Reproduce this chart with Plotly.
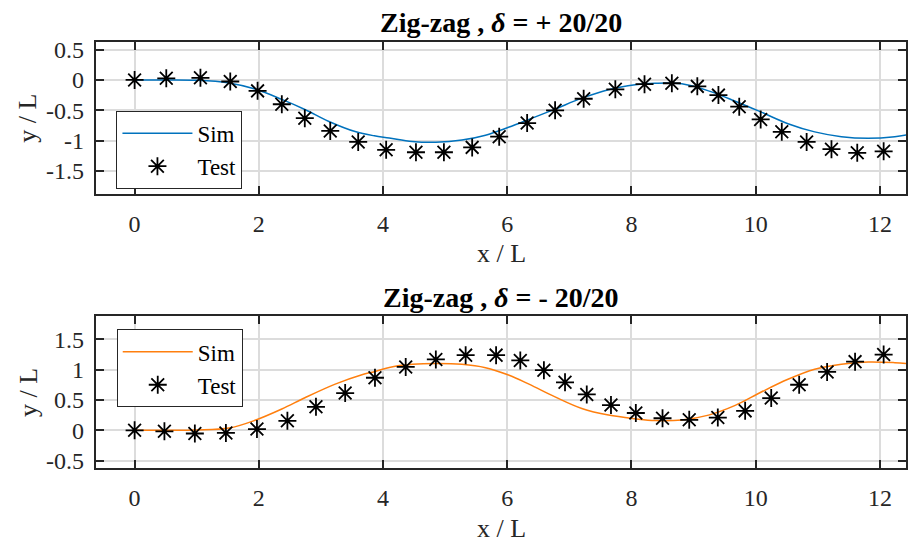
import plotly.graph_objects as go

# ---- data: delta = +20/20 ----
sim_pos_x = [0, 0.5, 1.0, 1.5, 1.94, 2.37, 2.75, 3.12, 3.55, 3.86, 4.10, 4.47, 4.85, 5.27,
             5.65, 6.02, 6.35, 6.77, 7.20, 7.63, 8.06, 8.38, 8.81, 9.24, 9.67, 10.09,
             10.52, 10.95, 11.38, 11.81, 12.24, 12.45]
sim_pos_y = [0, 0, -0.005, -0.045, -0.15, -0.32, -0.49, -0.68, -0.85, -0.92, -0.955, -1.012,
             -1.025, -0.99, -0.91, -0.78, -0.65, -0.48, -0.30, -0.16, -0.08, -0.055, -0.064,
             -0.18, -0.35, -0.53, -0.72, -0.855, -0.934, -0.96, -0.934, -0.9]
test_pos_x = [0, 0.51, 1.06, 1.54, 1.98, 2.37, 2.74, 3.15, 3.60, 4.05, 4.53, 4.98, 5.435,
              5.87, 6.32, 6.77, 7.23, 7.74, 8.21, 8.65, 9.06, 9.40, 9.735, 10.08, 10.42,
              10.82, 11.22, 11.635, 12.06]
test_pos_y = [0, 0.027, 0.035, -0.026, -0.18, -0.40, -0.63, -0.84, -1.02, -1.15, -1.19,
              -1.19, -1.11, -0.934, -0.71, -0.50, -0.31, -0.155, -0.07, -0.055, -0.106,
              -0.25, -0.44, -0.65, -0.854, -1.02, -1.14, -1.20, -1.175]

# ---- data: delta = -20/20 ----
sim_neg_x = [0, 0.5, 1.0, 1.52, 1.94, 2.37, 2.75, 3.23, 3.66, 3.86, 4.10, 4.47, 4.85, 5.27,
             5.65, 6.02, 6.35, 6.77, 7.20, 7.63, 8.06, 8.38, 8.81, 9.24, 9.67, 10.09,
             10.52, 10.95, 11.38, 11.81, 12.24, 12.45]
sim_neg_y = [0, 0, 0.005, 0.037, 0.165, 0.35, 0.54, 0.76, 0.915, 0.965, 1.035, 1.085, 1.10,
             1.086, 1.03, 0.91, 0.76, 0.55, 0.36, 0.25, 0.19, 0.16, 0.17, 0.25, 0.41, 0.63,
             0.84, 1.005, 1.086, 1.124, 1.113, 1.097]
test_neg_x = [0, 0.48, 0.97, 1.47, 1.97, 2.46, 2.92, 3.39, 3.87, 4.365, 4.85, 5.33, 5.82,
              6.21, 6.59, 6.93, 7.28, 7.67, 8.07, 8.50, 8.93, 9.39, 9.83, 10.25, 10.70,
              11.15, 11.60, 12.06]
test_neg_y = [0, -0.016, -0.053, -0.043, 0.02, 0.156, 0.387, 0.613, 0.865, 1.043, 1.166,
              1.237, 1.237, 1.15, 0.99, 0.79, 0.59, 0.415, 0.285, 0.198, 0.172, 0.21, 0.32,
              0.53, 0.75, 0.96, 1.13, 1.247]

x_ticks = [0, 2, 4, 6, 8, 10, 12]
x_ticklabels = ["0", "2", "4", "6", "8", "10", "12"]
y_ticks_pos = [-1.5, -1, -0.5, 0, 0.5]
y_ticklabels_pos = ["-1.5", "-1", "-0.5", "0", "0.5"]
y_ticks_neg = [-0.5, 0, 0.5, 1, 1.5]
y_ticklabels_neg = ["-0.5", "0", "0.5", "1", "1.5"]

FONT = "Liberation Serif, Times New Roman, serif"
W, H = 908, 552
AX_COLOR = "#262626"
GRID = "#dcdcdc"

# pixel layout of the two panels
left_px, right_px = 96, 908
top1, bot1 = 37.7, 192.7
top2, bot2 = 317.7, 472.7


def ydom(top, bot):
    return [(H - bot) / H, (H - top) / H]


fig = go.Figure()

fig.add_trace(go.Scatter(x=sim_pos_x, y=sim_pos_y, mode="lines", name="Sim",
                         line=dict(color="#0072BD", width=1.5, shape="spline", smoothing=1.0),
                         xaxis="x", yaxis="y", legend="legend"))
fig.add_trace(go.Scatter(x=test_pos_x, y=test_pos_y, mode="markers", name="Test",
                         marker=dict(symbol="asterisk-open", size=15, color="black",
                                     line=dict(color="black", width=1.8)),
                         xaxis="x", yaxis="y", legend="legend"))
fig.add_trace(go.Scatter(x=sim_neg_x, y=sim_neg_y, mode="lines", name="Sim",
                         line=dict(color="#FF7F0E", width=1.5, shape="spline", smoothing=1.0),
                         xaxis="x2", yaxis="y2", legend="legend2"))
fig.add_trace(go.Scatter(x=test_neg_x, y=test_neg_y, mode="markers", name="Test",
                         marker=dict(symbol="asterisk-open", size=15, color="black",
                                     line=dict(color="black", width=1.8)),
                         xaxis="x2", yaxis="y2", legend="legend2"))

xdom = [left_px / W, right_px / W]
common_x = dict(range=[-0.625, 12.42], tickvals=x_ticks, ticktext=x_ticklabels,
                showgrid=True, gridcolor=GRID, gridwidth=1.5, zeroline=False,
                showline=True, linecolor=AX_COLOR, linewidth=2, mirror="ticks",
                ticks="inside", ticklen=8, tickwidth=2, tickcolor=AX_COLOR,
                ticklabelstandoff=7,
                tickfont=dict(family=FONT, size=24, color=AX_COLOR), domain=xdom)
common_y = dict(showgrid=True, gridcolor=GRID, gridwidth=1.5, zeroline=False,
                showline=True, linecolor=AX_COLOR, linewidth=2, mirror="ticks",
                ticks="inside", ticklen=8, tickwidth=2, tickcolor=AX_COLOR,
                ticklabelstandoff=5,
                tickfont=dict(family=FONT, size=24, color=AX_COLOR))

legend_common = dict(xanchor="left", yanchor="top", bgcolor="white",
                     bordercolor=AX_COLOR, borderwidth=1,
                     font=dict(family=FONT, size=23, color="black"),
                     itemwidth=70, tracegroupgap=0)

fig.update_layout(
    width=W, height=H,
    margin=dict(l=0, r=0, t=0, b=0),
    paper_bgcolor="white", plot_bgcolor="white",
    font=dict(family=FONT),
    xaxis=dict(common_x, anchor="y"),
    yaxis=dict(common_y, range=[-1.875, 0.625], tickvals=y_ticks_pos,
               ticktext=y_ticklabels_pos, domain=ydom(top1, bot1), anchor="x"),
    xaxis2=dict(common_x, anchor="y2"),
    yaxis2=dict(common_y, range=[-0.625, 1.875], tickvals=y_ticks_neg,
                ticktext=y_ticklabels_neg, domain=ydom(top2, bot2), anchor="x2"),
    legend=dict(legend_common, x=116.7 / W, y=(H - 108) / H),
    legend2=dict(legend_common, x=117 / W, y=(H - 331) / H),
    showlegend=True,
)

cx = (left_px + right_px) / 2 / W
titles = [("<b>Zig-zag , <i>δ</i> = + 20/20</b>", 18),
          ("<b>Zig-zag , <i>δ</i> = - 20/20</b>", 298)]
for text, ypx in titles:
    fig.add_annotation(text=text, x=cx, y=(H - ypx) / H, xref="paper", yref="paper",
                       xanchor="center", yanchor="middle", showarrow=False,
                       font=dict(family=FONT, size=28, color="black"))

for ypx in (254, 534):
    fig.add_annotation(text="x / L", x=503 / W, y=(H - ypx) / H, xref="paper", yref="paper",
                       xanchor="center", yanchor="middle", showarrow=False,
                       font=dict(family=FONT, size=26, color=AX_COLOR))
for ypx in (115, 395):
    fig.add_annotation(text="y / L", x=28 / W, y=(H - ypx) / H, xref="paper", yref="paper",
                       xanchor="center", yanchor="middle", showarrow=False, textangle=-90,
                       font=dict(family=FONT, size=26, color=AX_COLOR))

fig.write_html("out.html")
